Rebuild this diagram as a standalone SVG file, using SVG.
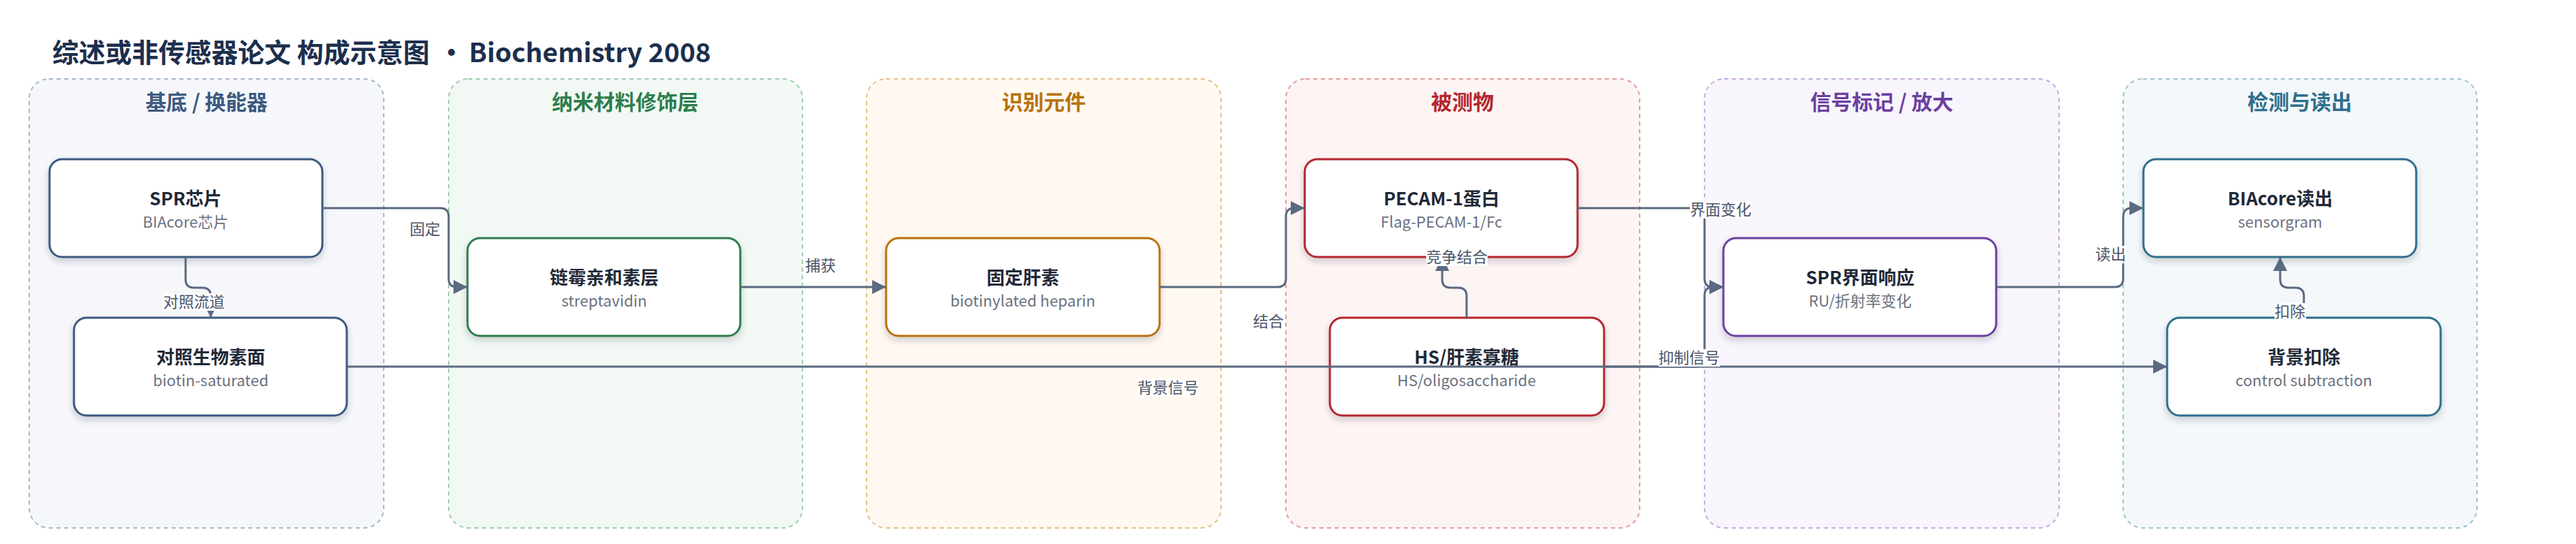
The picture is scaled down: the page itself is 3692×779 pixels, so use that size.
<svg xmlns="http://www.w3.org/2000/svg" width="3692" height="779" viewBox="0 0 3692 779">
<defs>
<style>
text{font-family:"Noto Sans CJK SC","Noto Sans",sans-serif}
.title{font-size:38px;font-weight:700;fill:#1c2f4d}
.lane{stroke-width:2;stroke-dasharray:6 5}
.lt{font-size:30px;font-weight:700;text-anchor:middle}
.node{fill:#fff;stroke-width:3;filter:url(#sh)}
.nt{font-size:26px;font-weight:700;fill:#1f2937;text-anchor:middle}
.ns{font-size:22px;fill:#6b7280;text-anchor:middle}
.edge{fill:none;stroke:#5a6a80;stroke-width:3;marker-end:url(#ah)}
.lbl{font-size:22px;fill:#4a5568;text-anchor:middle}
.lbg{fill:#fff}
</style>
<filter id="sh" x="-10%" y="-10%" width="120%" height="130%">
<feDropShadow dx="0" dy="5" stdDeviation="5" flood-color="#1e283c" flood-opacity="0.2"/>
</filter>
<marker id="ah" markerUnits="userSpaceOnUse" markerWidth="20" markerHeight="20" refX="20" refY="10" orient="auto">
<path d="M0,0 L20,10 L0,20 z" fill="#5a6a80"/>
</marker>
</defs>
<rect width="3692" height="779" fill="#fff"/>
<text class="title" y="89"><tspan x="75">综述或非传感器论文 构成示意图</tspan><tspan x="628">·</tspan><tspan x="672">Biochemistry 2008</tspan></text>

<g id="lane-substrate">
<rect class="lane" x="42" y="113" width="508" height="643" rx="28" fill="#f5f7fb" stroke="#a9b7cb"/>
<text class="lt" x="296" y="157" fill="#3d5a80">基底 / 换能器</text>
</g>
<g id="lane-nano">
<rect class="lane" x="643" y="113" width="507" height="643" rx="28" fill="#f2f9f4" stroke="#9fcdaf"/>
<text class="lt" x="896" y="157" fill="#2e7d4e">纳米材料修饰层</text>
</g>
<g id="lane-recog">
<rect class="lane" x="1242" y="113" width="508" height="643" rx="28" fill="#fff9f1" stroke="#e6c086"/>
<text class="lt" x="1496" y="157" fill="#b8720a">识别元件</text>
</g>
<g id="lane-analyte">
<rect class="lane" x="1843" y="113" width="507" height="643" rx="28" fill="#fdf4f4" stroke="#e39d9d"/>
<text class="lt" x="2096" y="157" fill="#b3282d">被测物</text>
</g>
<g id="lane-signal">
<rect class="lane" x="2443" y="113" width="508" height="643" rx="28" fill="#f8f5fc" stroke="#c5acdf"/>
<text class="lt" x="2697" y="157" fill="#6b3fa0">信号标记 / 放大</text>
</g>
<g id="lane-readout">
<rect class="lane" x="3043" y="113" width="507" height="643" rx="28" fill="#f4f8fa" stroke="#9fc3d1"/>
<text class="lt" x="3296" y="157" fill="#2e6f8c">检测与读出</text>
</g>

<g id="n-spr-chip">
<rect class="node" x="71" y="228" width="391" height="140" rx="18" stroke="#3d5a80"/>
<text class="nt" x="266" y="294">SPR芯片</text>
<text class="ns" x="266" y="326">BIAcore芯片</text>
</g>
<g id="n-control">
<rect class="node" x="106" y="455" width="391" height="140" rx="18" stroke="#3d5a80"/>
<text class="nt" x="302" y="521">对照生物素面</text>
<text class="ns" x="302" y="553">biotin-saturated</text>
</g>
<g id="n-streptavidin">
<rect class="node" x="670" y="341" width="391" height="140" rx="18" stroke="#2e7d4e"/>
<text class="nt" x="866" y="407">链霉亲和素层</text>
<text class="ns" x="866" y="439">streptavidin</text>
</g>
<g id="n-heparin">
<rect class="node" x="1270" y="341" width="392" height="140" rx="18" stroke="#b8720a"/>
<text class="nt" x="1466" y="407">固定肝素</text>
<text class="ns" x="1466" y="439">biotinylated heparin</text>
</g>
<g id="n-pecam">
<rect class="node" x="1870" y="228" width="391" height="140" rx="18" stroke="#b3282d"/>
<text class="nt" x="2066" y="294">PECAM-1蛋白</text>
<text class="ns" x="2066" y="326">Flag-PECAM-1/Fc</text>
</g>
<g id="n-hs">
<rect class="node" x="1906" y="455" width="393" height="140" rx="18" stroke="#b3282d"/>
<text class="nt" x="2102" y="521">HS/肝素寡糖</text>
<text class="ns" x="2102" y="553">HS/oligosaccharide</text>
</g>
<g id="n-spr-resp">
<rect class="node" x="2470" y="341" width="391" height="140" rx="18" stroke="#6b3fa0"/>
<text class="nt" x="2666" y="407">SPR界面响应</text>
<text class="ns" x="2666" y="439">RU/折射率变化</text>
</g>
<g id="n-biacore">
<rect class="node" x="3072" y="228" width="391" height="140" rx="18" stroke="#2e6f8c"/>
<text class="nt" x="3268" y="294">BIAcore读出</text>
<text class="ns" x="3268" y="326">sensorgram</text>
</g>
<g id="n-subtract">
<rect class="node" x="3106" y="455" width="392" height="140" rx="18" stroke="#2e6f8c"/>
<text class="nt" x="3302" y="521">背景扣除</text>
<text class="ns" x="3302" y="553">control subtraction</text>
</g>

<g id="connectors">
<path class="edge" d="M462,298 H631 Q643,298 643,310 V399 Q643,411 655,411 H670"/>
<path class="edge" d="M266,368 V400 Q266,412 278,412 H290 Q302,412 302,424 V455"/>
<path class="edge" d="M1061,411 H1270"/>
<path class="edge" d="M1662,411 H1831 Q1843,411 1843,399 V310 Q1843,298 1855,298 H1870"/>
<path class="edge" d="M2102,455 V424 Q2102,412 2090,412 H2079 Q2067,412 2067,400 V368"/>
<path class="edge" d="M2261,298 H2431 Q2443,298 2443,310 V399 Q2443,411 2455,411 H2470"/>
<path class="edge" d="M497,525 H3106"/>
<path class="edge" d="M2299,525 H2431 Q2443,525 2443,513 V423 Q2443,411 2455,411 H2470"/>
<path class="edge" d="M2861,411 H3031 Q3043,411 3043,399 V310 Q3043,298 3055,298 H3072"/>
<path class="edge" d="M3302,455 V424 Q3302,412 3290,412 H3280 Q3268,412 3268,400 V368"/>

<rect class="lbg" x="587" y="316" width="45" height="25"/>
<text class="lbl" x="609" y="336">固定</text>
<rect class="lbg" x="234" y="420" width="88" height="25"/>
<text class="lbl" x="278" y="440">对照流道</text>
<rect class="lbg" x="1154" y="368" width="45" height="25"/>
<text class="lbl" x="1176" y="388">捕获</text>
<rect class="lbg" x="1796" y="448" width="45" height="25"/>
<text class="lbl" x="1818" y="468">结合</text>
<rect class="lbg" x="2044" y="356" width="88" height="25"/>
<text class="lbl" x="2088" y="376">竞争结合</text>
<rect class="lbg" x="2422" y="288" width="88" height="25"/>
<text class="lbl" x="2466" y="308">界面变化</text>
<rect class="lbg" x="1630" y="543" width="88" height="25"/>
<text class="lbl" x="1674" y="563">背景信号</text>
<rect class="lbg" x="2377" y="500" width="88" height="25"/>
<text class="lbl" x="2421" y="520">抑制信号</text>
<rect class="lbg" x="3003" y="352" width="45" height="25"/>
<text class="lbl" x="3025" y="372">读出</text>
<rect class="lbg" x="3260" y="434" width="45" height="25"/>
<text class="lbl" x="3282" y="454">扣除</text>
</g>
</svg>
